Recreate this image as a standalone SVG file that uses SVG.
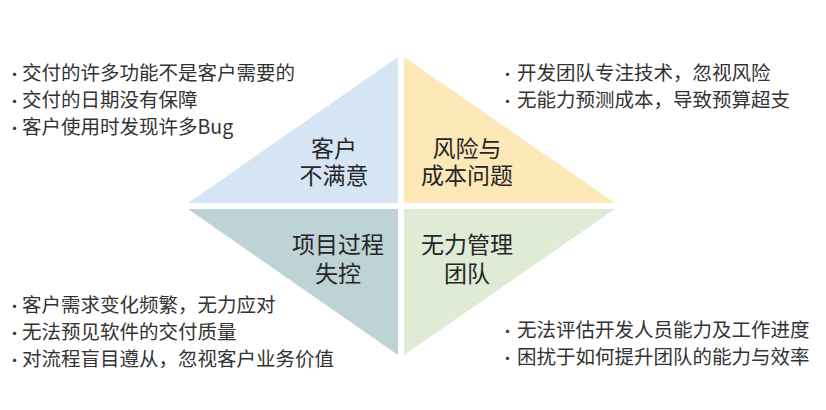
<svg xmlns="http://www.w3.org/2000/svg" width="826" height="410" viewBox="0 0 826 410">
<style>
.lbl{font-family:"Noto Sans CJK SC","Noto Sans",sans-serif;font-size:23px;fill:#262626;text-anchor:middle}
.txt{font-family:"Noto Sans CJK SC","Noto Sans",sans-serif;font-size:19.5px;fill:#333333}
.b{font-size:15px}
</style>
<rect width="826" height="410" fill="#ffffff"/>
<g id="q-customer">
<polygon points="398,57 188,203 398,203" fill="#d6e5f4"/>
<text class="lbl" x="334" y="157">客户<tspan x="334" y="184">不满意</tspan></text>
</g>
<g id="q-risk">
<polygon points="404,57 404,203 615,203" fill="#fde8b7"/>
<text class="lbl" x="467" y="157">风险与<tspan x="467" y="184">成本问题</tspan></text>
</g>
<g id="q-process">
<polygon points="188,209 398,209 398,355" fill="#bed3d6"/>
<text class="lbl" x="338" y="253">项目过程<tspan x="338" y="282">失控</tspan></text>
</g>
<g id="q-team">
<polygon points="404,209 615,209 404,355" fill="#dfebd4"/>
<text class="lbl" x="467" y="253">无力管理<tspan x="467" y="282">团队</tspan></text>
</g>
<g id="notes-customer">
<text class="txt" x="7" y="80"><tspan class="b">•</tspan><tspan x="22">交付的许多功能不是客户需要的</tspan></text>
<text class="txt" x="7" y="107"><tspan class="b">•</tspan><tspan x="22">交付的日期没有保障</tspan></text>
<text class="txt" x="7" y="134"><tspan class="b">•</tspan><tspan x="22">客户使用时发现许多Bug</tspan></text>
</g>
<g id="notes-risk">
<text class="txt" x="500" y="80"><tspan class="b">•</tspan><tspan x="517">开发团队专注技术，忽视风险</tspan></text>
<text class="txt" x="500" y="107"><tspan class="b">•</tspan><tspan x="517">无能力预测成本，导致预算超支</tspan></text>
</g>
<g id="notes-process">
<text class="txt" x="7" y="312"><tspan class="b">•</tspan><tspan x="22">客户需求变化频繁，无力应对</tspan></text>
<text class="txt" x="7" y="339"><tspan class="b">•</tspan><tspan x="22">无法预见软件的交付质量</tspan></text>
<text class="txt" x="7" y="366"><tspan class="b">•</tspan><tspan x="22">对流程盲目遵从，忽视客户业务价值</tspan></text>
</g>
<g id="notes-team">
<text class="txt" x="500" y="337"><tspan class="b">•</tspan><tspan x="517">无法评估开发人员能力及工作进度</tspan></text>
<text class="txt" x="500" y="364"><tspan class="b">•</tspan><tspan x="517">困扰于如何提升团队的能力与效率</tspan></text>
</g>
<g id="connectors"/>
</svg>
